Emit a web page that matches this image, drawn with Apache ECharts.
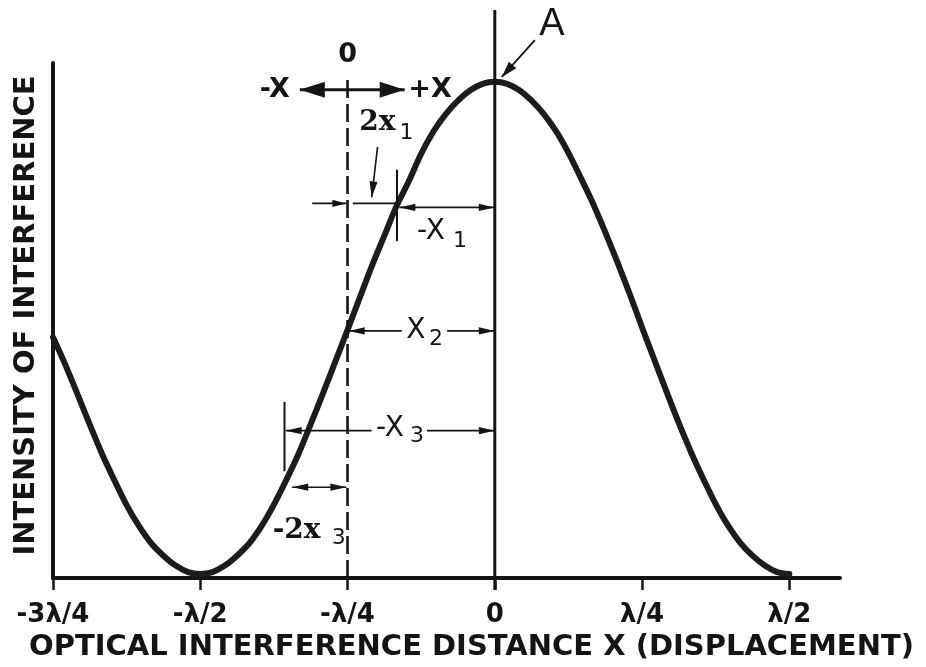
<!DOCTYPE html>
<html>
<head>
<meta charset="utf-8">
<script src="https://cdn.jsdelivr.net/npm/echarts@6/dist/echarts.min.js"></script>
<style>
  html, body { margin: 0; padding: 0; background: #ffffff; }
  #chart { width: 926px; height: 667px; }
</style>
</head>
<body>
<div id="chart"></div>
<script>
// Displacement X, in units of the wavelength λ
const displacement = [
  -0.75, -0.7292, -0.7083, -0.6875, -0.6667, -0.6458, -0.625, -0.6042, -0.5833, -0.5625, -0.5417, -0.5208,
  -0.5, -0.4792, -0.4583, -0.4375, -0.4167, -0.3958, -0.375, -0.3542, -0.3333, -0.3125, -0.2917, -0.2708,
  -0.25, -0.2292, -0.2083, -0.1875, -0.1667, -0.1458, -0.125, -0.1042, -0.0833, -0.0625, -0.0417, -0.0208,
  0, 0.0208, 0.0417, 0.0625, 0.0833, 0.1042, 0.125, 0.1458, 0.1667, 0.1875, 0.2083, 0.2292,
  0.25, 0.2708, 0.2917, 0.3125, 0.3333, 0.3542, 0.375, 0.3958, 0.4167, 0.4375, 0.4583, 0.4792, 0.5
];
// Relative intensity of interference at each displacement
const intensity = [
  0.485, 0.43, 0.37, 0.309, 0.25, 0.197, 0.147, 0.105, 0.07, 0.045, 0.025, 0.012,
  0.008, 0.012, 0.025, 0.045, 0.07, 0.105, 0.148, 0.197, 0.25, 0.31, 0.372, 0.436,
  0.50, 0.565, 0.63, 0.69, 0.75, 0.80, 0.855, 0.90, 0.935, 0.962, 0.983, 0.996,
  1.00, 0.996, 0.983, 0.962, 0.935, 0.90, 0.857, 0.807, 0.755, 0.697, 0.636, 0.572,
  0.505, 0.44, 0.375, 0.312, 0.253, 0.199, 0.149, 0.106, 0.071, 0.045, 0.025, 0.012, 0.008
];
// Axis ticks and their labels
const tickValues = [-0.75, -0.5, -0.25, 0, 0.25, 0.5];
const tickLabels = ['-3λ/4', '-λ/2', '-λ/4', '0', 'λ/4', 'λ/2'];

const INK = '#141414';
const SANS = '"DejaVu Sans", "Liberation Sans", sans-serif';
const SERIF = '"DejaVu Serif", "Liberation Serif", serif';

const chart = echarts.init(document.getElementById('chart'), null, { renderer: 'canvas' });

chart.setOption({
  backgroundColor: '#ffffff',
  animation: false,
  grid: { left: 53, right: 86, top: 63, bottom: 87, containLabel: false },
  xAxis: {
    type: 'value',
    min: -0.75,
    max: 0.586,
    interval: 0.25,
    splitLine: { show: false },
    axisLine: { onZero: false, lineStyle: { color: INK, width: 4 } },
    axisTick: { show: true, length: 12, customValues: tickValues, lineStyle: { color: INK, width: 2.5 } },
    axisLabel: {
      customValues: tickValues,
      margin: 24,
      color: INK,
      fontFamily: SANS,
      fontWeight: 'bold',
      fontSize: 26,
      formatter: function (v) {
        const i = tickValues.findIndex(function (t) { return Math.abs(t - v) < 1e-6; });
        return i >= 0 ? tickLabels[i] : '';
      }
    },
    name: 'OPTICAL INTERFERENCE DISTANCE X (DISPLACEMENT)',
    nameLocation: 'middle',
    nameGap: 55,
    nameTextStyle: { color: INK, fontFamily: SANS, fontWeight: 'bold', fontSize: 29, padding: [0, 0, 0, 50] }
  },
  yAxis: {
    type: 'value',
    min: 0,
    max: 1.038,
    splitLine: { show: false },
    axisLine: { show: true, onZero: false, lineStyle: { color: INK, width: 4 } },
    axisTick: { show: false },
    axisLabel: { show: false },
    name: 'INTENSITY OF INTERFERENCE',
    nameLocation: 'middle',
    nameRotate: 90,
    nameGap: 12,
    nameTextStyle: { color: INK, fontFamily: SANS, fontWeight: 'bold', fontSize: 29, padding: [0, 0, 0, 10] }
  },
  series: [{
    type: 'line',
    data: displacement.map(function (x, i) { return [x, intensity[i]]; }),
    smooth: 0.3,
    showSymbol: false,
    clip: false,
    z: 5,
    lineStyle: { color: '#1c1c1c', width: 6, cap: 'round' }
  }]
});

// ---- annotation helpers (positions given in data units: x in λ, y in intensity) ----
function px(p) { return chart.convertToPixel({ gridIndex: 0 }, p); }

function seg(a, b, w, dash) {
  const p = px(a), q = px(b);
  return {
    type: 'line', z: 20,
    shape: { x1: p[0], y1: p[1], x2: q[0], y2: q[1] },
    style: { stroke: INK, lineWidth: w, lineDash: dash || null }
  };
}

function head(tipD, fromD, len, hw) {
  const t = px(tipD), f = px(fromD);
  const dx = t[0] - f[0], dy = t[1] - f[1];
  const d = Math.sqrt(dx * dx + dy * dy) || 1;
  const ux = dx / d, uy = dy / d;
  const bx = t[0] - ux * len, by = t[1] - uy * len;
  return {
    type: 'polygon', z: 21,
    shape: { points: [[t[0], t[1]], [bx - uy * hw, by + ux * hw], [bx + uy * hw, by - ux * hw]] },
    style: { fill: INK }
  };
}

// line from a to b with optional heads at either end
function arrow(a, b, o) {
  const out = [seg(a, b, o.w)];
  if (o.start) out.push(head(a, b, o.len, o.hw));
  if (o.end) out.push(head(b, a, o.len, o.hw));
  return out;
}

function label(text, p, font, align) {
  const q = px(p);
  return {
    type: 'text', z: 30,
    style: { text: text, x: q[0], y: q[1], font: font, fill: INK, align: align || 'center', verticalAlign: 'middle' }
  };
}

function buildAnnotations() {
  const big = 'bold 27px ' + SANS;
  const dim = 'normal 28px ' + SANS;
  const sub = 'normal 22px ' + SANS;
  const ser = 'bold 28px ' + SERIF;
  const thin = { w: 1.6, len: 16, hw: 3.6 };
  let g = [];

  // reference line through the peak (X = 0) and the dashed zero-displacement line at -λ/4
  g.push(seg([0, -0.024], [0, 1.145], 3));
  g.push(seg([-0.25, 0], [-0.25, 1.008], 2.6, [18, 6]));

  // "0" and the -X / +X direction arrow
  g.push(label('0', [-0.25, 1.054], big));
  g = g.concat(arrow([-0.331, 0.984], [-0.153, 0.984], { w: 3, len: 25, hw: 8, start: true, end: true }));
  g.push(label('-X', [-0.3735, 0.984], big));
  g.push(label('+X', [-0.110, 0.984], big));

  // 2x1 and its leader
  g.push(label('2x', [-0.230, 0.918], ser, 'left'));
  g.push(label('1', [-0.150, 0.896], sub));
  g = g.concat(arrow([-0.199, 0.869], [-0.209, 0.767], { w: 1.6, len: 16, hw: 4, end: true }));

  // 2x1 span at the first working point
  g = g.concat(arrow([-0.310, 0.755], [-0.252, 0.755], { w: 1.6, len: 14, hw: 3.6, end: true }));
  g.push(seg([-0.241, 0.755], [-0.166, 0.755], 1.6));
  g.push(seg([-0.166, 0.823], [-0.166, 0.679], 2));
  g = g.concat(arrow([-0.162, 0.747], [0, 0.747], Object.assign({ start: true, end: true }, thin)));
  g.push(label('-X', [-0.132, 0.697], dim, 'left'));
  g.push(label('1', [-0.059, 0.679], sub));

  // X2 span
  g = g.concat(arrow([-0.248, 0.498], [-0.158, 0.498], Object.assign({ start: true }, thin)));
  g = g.concat(arrow([-0.081, 0.498], [0, 0.498], Object.assign({ end: true }, thin)));
  g.push(label('X', [-0.134, 0.498], dim));
  g.push(label('2', [-0.100, 0.482], sub));

  // X3 span
  g.push(seg([-0.357, 0.355], [-0.357, 0.215], 2));
  g = g.concat(arrow([-0.355, 0.297], [-0.209, 0.297], Object.assign({ start: true }, thin)));
  g = g.concat(arrow([-0.115, 0.297], [0, 0.297], Object.assign({ end: true }, thin)));
  g.push(label('-X', [-0.178, 0.301], dim));
  g.push(label('3', [-0.132, 0.285], sub));

  // 2x3 span
  g = g.concat(arrow([-0.344, 0.183], [-0.252, 0.183], Object.assign({ start: true, end: true }, thin)));
  g.push(label('-2x', [-0.377, 0.096], ser, 'left'));
  g.push(label('3', [-0.265, 0.080], sub));

  // peak marker A
  g.push(label('A', [0.097, 1.116], 'normal 38px "Liberation Sans", sans-serif'));
  g = g.concat(arrow([0.068, 1.084], [0.012, 1.010], { w: 1.8, len: 16, hw: 5, end: true }));

  return g;
}

chart.setOption({ graphic: buildAnnotations() });
</script>
</body>
</html>
